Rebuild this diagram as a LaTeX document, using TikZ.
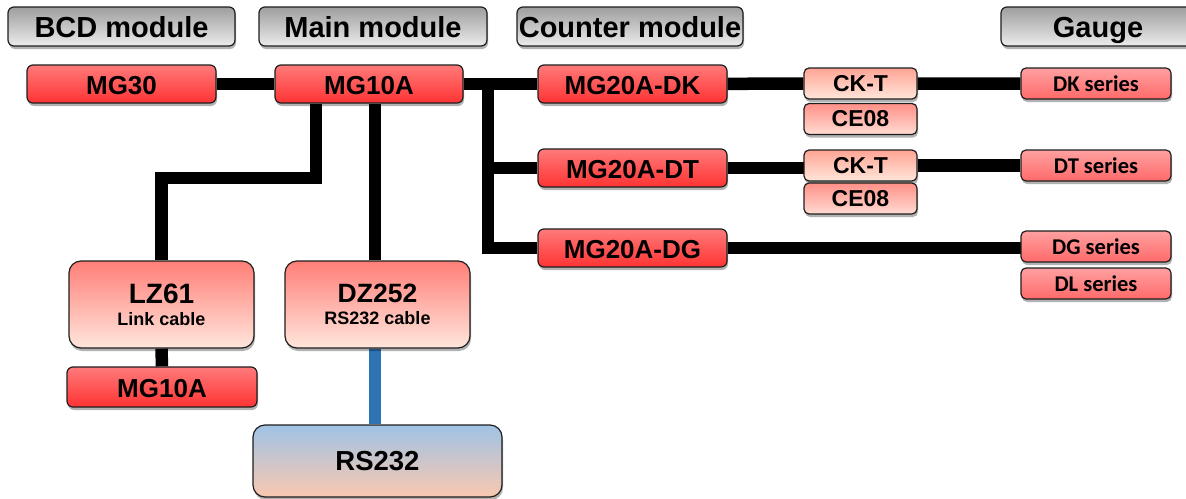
\documentclass[tikz,border=0pt]{standalone}
\usepackage{fontspec}
\setmainfont{Liberation Sans}
\newfontfamily\calib{Carlito}
\usetikzlibrary{shadows}
\pgfdeclarelayer{bg}
\pgfsetlayers{bg,main}
\definecolor{redtop}{HTML}{FF7A7A}
\definecolor{redbot}{HTML}{FF3333}
\definecolor{pinktop}{HTML}{FFA0A0}
\definecolor{pinkbot}{HTML}{FF6A6A}
\definecolor{salmtop}{HTML}{FFA595}
\definecolor{salmbot}{HTML}{FFE6DA}
\definecolor{cetop}{HTML}{FF9088}
\definecolor{cebot}{HTML}{FFDCD2}
\definecolor{cabtop}{HTML}{FF7F78}
\definecolor{cabmid}{HTML}{FFB8A0}
\definecolor{cabbot}{HTML}{FFE6DC}
\definecolor{rstop}{HTML}{9FC3E5}
\definecolor{rsbot}{HTML}{FAC8B0}
\definecolor{hdtop}{HTML}{9E9E9E}
\definecolor{hdbot}{HTML}{ECECEC}
\definecolor{bluecab}{HTML}{2E74B5}
\definecolor{edge}{HTML}{1E1E1E}
\begin{document}
\begin{tikzpicture}[x=1pt,y=-1pt,
  basebox/.style={draw=edge, line width=1.2pt, rounded corners=6pt, inner sep=0pt, align=center,
    drop shadow={shadow xshift=1pt, shadow yshift=-3pt, opacity=0.3, fill=black}},
  header/.style={basebox, top color=hdtop, bottom color=hdbot, minimum height=39pt,
    text height=23pt, text depth=2pt,
    font=\bfseries\fontsize{29}{30}\selectfont},
  redbox/.style={basebox, top color=redtop, bottom color=redbot, minimum width=189pt, minimum height=38pt,
    text height=20pt, text depth=0pt,
    font=\bfseries\fontsize{26}{28}\selectfont},
  gaugebox/.style={basebox, rounded corners=5pt, top color=pinktop, bottom color=pinkbot, minimum width=150pt, minimum height=31pt,
    font=\calib\bfseries\fontsize{22.5}{24}\selectfont},
  cktbox/.style={basebox, rounded corners=5pt, top color=salmtop, bottom color=salmbot, minimum width=113pt, minimum height=31pt,
    font=\bfseries\fontsize{23}{24}\selectfont},
  cebox/.style={basebox, rounded corners=5pt, top color=cetop, bottom color=cebot, minimum width=113pt, minimum height=31pt,
    font=\bfseries\fontsize{23}{24}\selectfont},
  cablebox/.style={basebox, rounded corners=12pt, top color=cabtop, middle color=cabmid, bottom color=cabbot,
    minimum width=185pt, minimum height=87pt, font=\bfseries\fontsize{18}{22}\selectfont},
  rsbox/.style={basebox, rounded corners=12pt, top color=rstop, bottom color=rsbot,
    minimum width=249pt, minimum height=72pt, font=\bfseries\fontsize{27.5}{28}\selectfont},
  wire/.style={line width=12.5pt, black, line join=miter},
  bluewire/.style={line width=12.5pt, bluecab}]
\useasboundingbox (0,0) rectangle (1186,498);

% headers
\node[header, minimum width=227pt] (hbcd) at (121.5,26.5) {BCD module};
\node[header, minimum width=228pt] (hmain) at (373,26.5) {Main module};
\node[header, minimum width=226pt] (hcount) at (630,26.5) {Counter module};
\node[header, minimum width=194pt] (hgauge) at (1098,26.5) {Gauge};

% modules
\node[redbox] (mg30) at (121.5,84) {MG30};
\node[redbox, minimum width=188pt] (mg10a) at (369,84) {MG10A};
\node[redbox] (mgdk) at (632.5,84) {MG20A-DK};
\node[redbox] (mgdt) at (632.5,168) {MG20A-DT};
\node[redbox] (mgdg) at (632.5,248) {MG20A-DG};

\node[cktbox] (ckt1) at (860.5,83.5) {CK-T};
\node[cebox] (ce1) at (860.5,119) {CE08};
\node[cktbox] (ckt2) at (860.5,165.5) {CK-T};
\node[cebox] (ce2) at (860.5,198.5) {CE08};

\node[gaugebox] (dk) at (1096,83.5) {DK series};
\node[gaugebox] (dt) at (1096,165.5) {DT series};
\node[gaugebox] (dg) at (1096,246.5) {DG series};
\node[gaugebox] (dl) at (1096,283.5) {DL series};

\node[cablebox] (lz) at (161.5,304.5) {{\fontsize{28}{22}\selectfont LZ61}\\Link cable};
\node[cablebox] (dz) at (377.5,304.5) {{\fontsize{26.5}{22}\selectfont DZ252}\\RS232 cable};
\node[redbox, minimum width=190pt, minimum height=40pt] (mg10b) at (162,387) {MG10A};
\node[rsbox] (rs) at (377.5,461) {RS232};

% junction coordinates
\coordinate (bus) at (488,84);
\coordinate (jl) at (316,178);
\coordinate (mid) at (375,300);

\begin{pgfonlayer}{bg}
\fill[white] (0,0) rectangle (1186,498);
\draw[wire] (mg30) -- (mg10a);
\draw[wire] (mg10a) -- (mgdk);
\draw[wire] (bus) |- (mgdg);
\draw[wire] (bus |- mgdt) -- (mgdt);
\draw[wire] (mg10a.south -| jl) -- (jl) -| (lz.north);
\draw[wire] (mg10a.south -| mid) -- (dz.north -| mid);
\draw[wire] (lz.south) -- (mg10b.north);
\draw[bluewire] (dz.south -| mid) -- (rs.north -| mid);
\draw[wire] (mgdk) -- (ckt1) -- (dk);
\draw[wire] (mgdt) -- (mgdt -| ckt2);
\draw[wire] (ckt2) -- (dt);
\draw[wire] (mgdg) -- (mgdg -| dg);
\end{pgfonlayer}
\end{tikzpicture}
\end{document}
